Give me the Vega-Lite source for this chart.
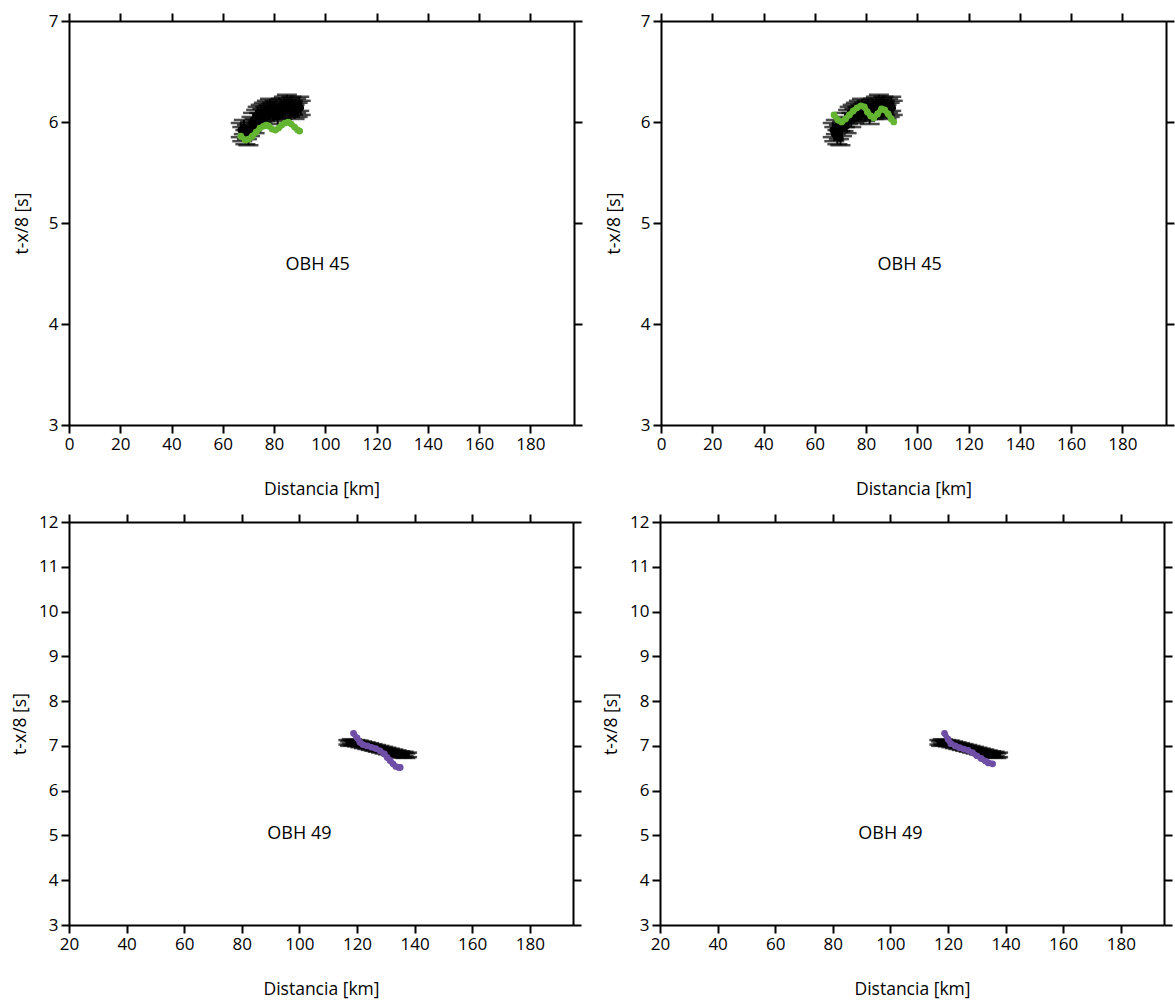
{
"$schema": "https://vega.github.io/schema/vega-lite/v6.json",
"padding": {"left": 11, "top": 12, "right": 5, "bottom": 5},
"background": "white",
"config": {
 "view": {"stroke": null},
 "font": "Open Sans",
 "axis": {"grid": false, "domainColor": "black", "domainWidth": 2, "tickColor": "black", "tickWidth": 2, "tickSize": 8, "labelColor": "black", "titleColor": "black", "labelFont": "Open Sans", "titleFont": "Open Sans", "labelFontSize": 17, "titleFontSize": 17.5, "titleFontWeight": "normal", "labelPadding": 3, "labelFlush": false, "labelOverlap": false, "labelBound": false}
},
"datasets": {
 "p45": [
  {"x":67.0,"y":5.92,"lo":5.85,"hi":5.99},{"x":67.6,"y":5.88,"lo":5.81,"hi":5.95},{"x":68.2,"y":5.95,"lo":5.88,"hi":6.02},{"x":68.8,"y":5.85,"lo":5.78,"hi":5.92},{"x":69.4,"y":5.90,"lo":5.83,"hi":5.97},{"x":70.0,"y":5.84,"lo":5.77,"hi":5.91},{"x":70.6,"y":5.93,"lo":5.86,"hi":6.00},{"x":71.2,"y":5.98,"lo":5.91,"hi":6.05},{"x":71.8,"y":6.02,"lo":5.95,"hi":6.09},{"x":72.4,"y":5.96,"lo":5.89,"hi":6.03},{"x":73.0,"y":6.05,"lo":5.98,"hi":6.12},{"x":73.6,"y":6.08,"lo":6.01,"hi":6.15},{"x":74.2,"y":6.02,"lo":5.95,"hi":6.09},{"x":74.8,"y":6.10,"lo":6.03,"hi":6.17},{"x":75.4,"y":6.06,"lo":5.99,"hi":6.13},{"x":76.0,"y":6.12,"lo":6.05,"hi":6.19},{"x":76.6,"y":6.08,"lo":6.01,"hi":6.15},{"x":77.2,"y":6.14,"lo":6.07,"hi":6.21},{"x":77.8,"y":6.10,"lo":6.03,"hi":6.17},{"x":78.4,"y":6.16,"lo":6.09,"hi":6.23},{"x":79.0,"y":6.12,"lo":6.05,"hi":6.19},{"x":79.6,"y":6.08,"lo":6.01,"hi":6.15},{"x":80.2,"y":6.14,"lo":6.07,"hi":6.21},{"x":80.8,"y":6.10,"lo":6.03,"hi":6.17},{"x":81.4,"y":6.05,"lo":5.98,"hi":6.12},{"x":82.0,"y":6.12,"lo":6.05,"hi":6.19},{"x":82.6,"y":6.16,"lo":6.09,"hi":6.23},{"x":83.2,"y":6.10,"lo":6.03,"hi":6.17},{"x":83.8,"y":6.18,"lo":6.11,"hi":6.25},{"x":84.4,"y":6.14,"lo":6.07,"hi":6.21},{"x":85.0,"y":6.20,"lo":6.13,"hi":6.27},{"x":85.6,"y":6.16,"lo":6.09,"hi":6.23},{"x":86.2,"y":6.12,"lo":6.05,"hi":6.19},{"x":86.8,"y":6.18,"lo":6.11,"hi":6.25},{"x":87.4,"y":6.14,"lo":6.07,"hi":6.21},{"x":88.0,"y":6.10,"lo":6.03,"hi":6.17},{"x":88.6,"y":6.16,"lo":6.09,"hi":6.23},{"x":89.2,"y":6.12,"lo":6.05,"hi":6.19},{"x":89.8,"y":6.18,"lo":6.11,"hi":6.25},{"x":90.4,"y":6.14,"lo":6.07,"hi":6.21}
 ],
 "g45a": [
  {"x":67.0,"y":5.86},{"x":68.8,"y":5.82},{"x":70.0,"y":5.83},{"x":71.5,"y":5.86},{"x":73.0,"y":5.90},{"x":74.5,"y":5.94},{"x":76.0,"y":5.96},{"x":77.0,"y":5.97},{"x":78.0,"y":5.96},{"x":79.2,"y":5.93},{"x":80.5,"y":5.92},{"x":81.8,"y":5.94},{"x":83.0,"y":5.97},{"x":84.3,"y":5.99},{"x":85.5,"y":6.00},{"x":86.7,"y":5.98},{"x":88.0,"y":5.95},{"x":89.2,"y":5.92},{"x":90.0,"y":5.91}
 ],
 "g45b": [
  {"x":67.5,"y":6.07},{"x":69.0,"y":6.02},{"x":70.5,"y":6.00},{"x":72.0,"y":6.03},{"x":73.5,"y":6.07},{"x":75.0,"y":6.11},{"x":76.5,"y":6.14},{"x":78.0,"y":6.16},{"x":79.3,"y":6.15},{"x":80.5,"y":6.10},{"x":81.8,"y":6.06},{"x":83.0,"y":6.04},{"x":84.5,"y":6.08},{"x":86.0,"y":6.13},{"x":87.3,"y":6.12},{"x":88.6,"y":6.08},{"x":89.8,"y":6.03},{"x":90.8,"y":6.00}
 ],
 "p49": [
  {"x":117.0,"y":7.08,"lo":7.03,"hi":7.13},{"x":117.6,"y":7.05,"lo":7.00,"hi":7.10},{"x":118.2,"y":7.10,"lo":7.05,"hi":7.15},{"x":118.8,"y":7.06,"lo":7.01,"hi":7.11},{"x":119.4,"y":7.08,"lo":7.03,"hi":7.13},{"x":120.0,"y":7.04,"lo":6.99,"hi":7.09},{"x":120.6,"y":7.07,"lo":7.02,"hi":7.12},{"x":121.2,"y":7.02,"lo":6.97,"hi":7.07},{"x":121.8,"y":7.05,"lo":7.00,"hi":7.10},{"x":122.4,"y":7.00,"lo":6.95,"hi":7.05},{"x":123.0,"y":7.03,"lo":6.98,"hi":7.08},{"x":123.6,"y":6.98,"lo":6.93,"hi":7.03},{"x":124.2,"y":7.01,"lo":6.96,"hi":7.06},{"x":124.8,"y":6.96,"lo":6.91,"hi":7.01},{"x":125.4,"y":6.99,"lo":6.94,"hi":7.04},{"x":126.0,"y":6.94,"lo":6.89,"hi":6.99},{"x":126.6,"y":6.97,"lo":6.92,"hi":7.02},{"x":127.2,"y":6.92,"lo":6.87,"hi":6.97},{"x":127.8,"y":6.95,"lo":6.90,"hi":7.00},{"x":128.4,"y":6.90,"lo":6.85,"hi":6.95},{"x":129.0,"y":6.93,"lo":6.88,"hi":6.98},{"x":129.6,"y":6.88,"lo":6.83,"hi":6.93},{"x":130.2,"y":6.91,"lo":6.86,"hi":6.96},{"x":130.8,"y":6.86,"lo":6.81,"hi":6.91},{"x":131.4,"y":6.89,"lo":6.84,"hi":6.94},{"x":132.0,"y":6.84,"lo":6.79,"hi":6.89},{"x":132.6,"y":6.87,"lo":6.82,"hi":6.92},{"x":133.2,"y":6.82,"lo":6.77,"hi":6.87},{"x":133.8,"y":6.85,"lo":6.80,"hi":6.90},{"x":134.4,"y":6.80,"lo":6.75,"hi":6.85},{"x":135.0,"y":6.83,"lo":6.78,"hi":6.88},{"x":135.6,"y":6.79,"lo":6.74,"hi":6.84},{"x":136.2,"y":6.82,"lo":6.77,"hi":6.87},{"x":136.8,"y":6.78,"lo":6.73,"hi":6.83},{"x":137.4,"y":6.80,"lo":6.75,"hi":6.85}
 ],
 "v49a": [
  {"x":118.8,"y":7.28},{"x":120.0,"y":7.18},{"x":121.0,"y":7.08},{"x":122.0,"y":7.03},{"x":123.5,"y":7.00},{"x":125.0,"y":6.97},{"x":126.5,"y":6.94},{"x":128.0,"y":6.89},{"x":129.5,"y":6.82},{"x":130.5,"y":6.74},{"x":131.5,"y":6.67},{"x":132.5,"y":6.60},{"x":133.5,"y":6.54},{"x":134.5,"y":6.52},{"x":135.0,"y":6.52}
 ],
 "v49b": [
  {"x":118.8,"y":7.28},{"x":120.0,"y":7.15},{"x":121.0,"y":7.05},{"x":122.5,"y":7.00},{"x":124.0,"y":6.96},{"x":125.5,"y":6.93},{"x":127.0,"y":6.90},{"x":128.5,"y":6.85},{"x":130.0,"y":6.78},{"x":131.5,"y":6.72},{"x":133.0,"y":6.66},{"x":134.0,"y":6.62},{"x":135.5,"y":6.60}
 ],
 "l45": [{"x":97,"y":4.58,"t":"OBH 45"}],
 "l49": [{"x":100,"y":5.04,"t":"OBH 49"}]
},
"spacing": 15,
"vconcat": [
 {"hconcat": [
  {"width": 505, "height": 404,
   "resolve": {"axis": {"x": "independent", "y": "independent"}},
   "layer": [
    {"data": {"name": "p45"}, "mark": {"type": "rule", "color": "black", "strokeWidth": 2},
     "encoding": {
      "x": {"field": "x", "type": "quantitative", "scale": {"domain": [0, 197], "nice": false, "zero": false}, "axis": {"orient": "bottom", "values": [0,20,40,60,80,100,120,140,160,180], "title": "Distancia [km]", "titleY": 64, "titleBaseline": "middle"}},
      "y": {"field": "lo", "type": "quantitative", "scale": {"domain": [3, 7], "nice": false, "zero": false}, "axis": {"orient": "left", "values": [3,4,5,6,7], "title": "t-x/8 [s]", "titleX": -47, "titleBaseline": "middle"}},
      "y2": {"field": "hi"}}},
    {"data": {"name": "p45"}, "mark": {"type": "tick", "orient": "horizontal", "size": 20, "thickness": 2.5, "color": "black"},
     "encoding": {
      "x": {"field": "x", "type": "quantitative", "axis": {"orient": "top", "values": [0,20,40,60,80,100,120,140,160,180], "labels": false, "title": null}},
      "y": {"field": "lo", "type": "quantitative", "axis": {"orient": "right", "values": [3,4,5,6,7], "labels": false, "title": null}}}},
    {"data": {"name": "p45"}, "mark": {"type": "tick", "orient": "horizontal", "size": 20, "thickness": 2.5, "color": "black"},
     "encoding": {"x": {"field": "x", "type": "quantitative", "axis": null}, "y": {"field": "hi", "type": "quantitative", "axis": null}}},
    {"data": {"name": "p45"}, "mark": {"type": "point", "filled": true, "color": "black", "opacity": 1, "size": 45},
     "encoding": {"x": {"field": "x", "type": "quantitative", "axis": null}, "y": {"field": "y", "type": "quantitative", "axis": null}}},
    {"data": {"name": "g45a"}, "mark": {"type": "line", "color": "#63b531", "strokeWidth": 5.5, "strokeCap": "round", "strokeJoin": "round", "point": {"filled": true, "color": "#63b531", "size": 45, "opacity": 1}},
     "encoding": {"x": {"field": "x", "type": "quantitative", "axis": null}, "y": {"field": "y", "type": "quantitative", "axis": null}}},
    {"data": {"name": "l45"}, "mark": {"type": "text", "fontSize": 18, "font": "Open Sans", "color": "black"},
     "encoding": {"x": {"field": "x", "type": "quantitative", "axis": null}, "y": {"field": "y", "type": "quantitative", "axis": null}, "text": {"field": "t"}}}
   ]},
  {"width": 505, "height": 404,
   "resolve": {"axis": {"x": "independent", "y": "independent"}},
   "layer": [
    {"data": {"name": "p45"}, "mark": {"type": "rule", "color": "black", "strokeWidth": 2},
     "encoding": {
      "x": {"field": "x", "type": "quantitative", "scale": {"domain": [0, 197], "nice": false, "zero": false}, "axis": {"orient": "bottom", "values": [0,20,40,60,80,100,120,140,160,180], "title": "Distancia [km]", "titleY": 64, "titleBaseline": "middle"}},
      "y": {"field": "lo", "type": "quantitative", "scale": {"domain": [3, 7], "nice": false, "zero": false}, "axis": {"orient": "left", "values": [3,4,5,6,7], "title": "t-x/8 [s]", "titleX": -47, "titleBaseline": "middle"}},
      "y2": {"field": "hi"}}},
    {"data": {"name": "p45"}, "mark": {"type": "tick", "orient": "horizontal", "size": 20, "thickness": 2.5, "color": "black"},
     "encoding": {
      "x": {"field": "x", "type": "quantitative", "axis": {"orient": "top", "values": [0,20,40,60,80,100,120,140,160,180], "labels": false, "title": null}},
      "y": {"field": "lo", "type": "quantitative", "axis": {"orient": "right", "values": [3,4,5,6,7], "labels": false, "title": null}}}},
    {"data": {"name": "p45"}, "mark": {"type": "tick", "orient": "horizontal", "size": 20, "thickness": 2.5, "color": "black"},
     "encoding": {"x": {"field": "x", "type": "quantitative", "axis": null}, "y": {"field": "hi", "type": "quantitative", "axis": null}}},
    {"data": {"name": "p45"}, "mark": {"type": "point", "filled": true, "color": "black", "opacity": 1, "size": 45},
     "encoding": {"x": {"field": "x", "type": "quantitative", "axis": null}, "y": {"field": "y", "type": "quantitative", "axis": null}}},
    {"data": {"name": "g45b"}, "mark": {"type": "line", "color": "#63b531", "strokeWidth": 5.5, "strokeCap": "round", "strokeJoin": "round", "point": {"filled": true, "color": "#63b531", "size": 45, "opacity": 1}},
     "encoding": {"x": {"field": "x", "type": "quantitative", "axis": null}, "y": {"field": "y", "type": "quantitative", "axis": null}}},
    {"data": {"name": "l45"}, "mark": {"type": "text", "fontSize": 18, "font": "Open Sans", "color": "black"},
     "encoding": {"x": {"field": "x", "type": "quantitative", "axis": null}, "y": {"field": "y", "type": "quantitative", "axis": null}, "text": {"field": "t"}}}
   ]}
 ], "bounds": "flush", "spacing": 87},
 {"hconcat": [
  {"width": 504, "height": 403,
   "resolve": {"axis": {"x": "independent", "y": "independent"}},
   "layer": [
    {"data": {"name": "p49"}, "mark": {"type": "rule", "color": "black", "strokeWidth": 2},
     "encoding": {
      "x": {"field": "x", "type": "quantitative", "scale": {"domain": [20, 195], "nice": false, "zero": false}, "axis": {"orient": "bottom", "values": [20,40,60,80,100,120,140,160,180], "title": "Distancia [km]", "titleY": 64, "titleBaseline": "middle"}},
      "y": {"field": "lo", "type": "quantitative", "scale": {"domain": [3, 12], "nice": false, "zero": false}, "axis": {"orient": "left", "values": [3,4,5,6,7,8,9,10,11,12], "title": "t-x/8 [s]", "titleX": -49, "titleBaseline": "middle"}},
      "y2": {"field": "hi"}}},
    {"data": {"name": "p49"}, "mark": {"type": "tick", "orient": "horizontal", "size": 20, "thickness": 2.5, "color": "black"},
     "encoding": {
      "x": {"field": "x", "type": "quantitative", "axis": {"orient": "top", "values": [20,40,60,80,100,120,140,160,180], "labels": false, "title": null}},
      "y": {"field": "lo", "type": "quantitative", "axis": {"orient": "right", "values": [3,4,5,6,7,8,9,10,11,12], "labels": false, "title": null}}}},
    {"data": {"name": "p49"}, "mark": {"type": "tick", "orient": "horizontal", "size": 20, "thickness": 2.5, "color": "black"},
     "encoding": {"x": {"field": "x", "type": "quantitative", "axis": null}, "y": {"field": "hi", "type": "quantitative", "axis": null}}},
    {"data": {"name": "p49"}, "mark": {"type": "point", "filled": true, "color": "black", "opacity": 1, "size": 30},
     "encoding": {"x": {"field": "x", "type": "quantitative", "axis": null}, "y": {"field": "y", "type": "quantitative", "axis": null}}},
    {"data": {"name": "v49a"}, "mark": {"type": "line", "color": "#6f4ea6", "strokeWidth": 5.5, "strokeCap": "round", "strokeJoin": "round", "point": {"filled": true, "color": "#6f4ea6", "size": 45, "opacity": 1}},
     "encoding": {"x": {"field": "x", "type": "quantitative", "axis": null}, "y": {"field": "y", "type": "quantitative", "axis": null}}},
    {"data": {"name": "l49"}, "mark": {"type": "text", "fontSize": 18, "font": "Open Sans", "color": "black"},
     "encoding": {"x": {"field": "x", "type": "quantitative", "axis": null}, "y": {"field": "y", "type": "quantitative", "axis": null}, "text": {"field": "t"}}}
   ]},
  {"width": 504, "height": 403,
   "resolve": {"axis": {"x": "independent", "y": "independent"}},
   "layer": [
    {"data": {"name": "p49"}, "mark": {"type": "rule", "color": "black", "strokeWidth": 2},
     "encoding": {
      "x": {"field": "x", "type": "quantitative", "scale": {"domain": [20, 195], "nice": false, "zero": false}, "axis": {"orient": "bottom", "values": [20,40,60,80,100,120,140,160,180], "title": "Distancia [km]", "titleY": 64, "titleBaseline": "middle"}},
      "y": {"field": "lo", "type": "quantitative", "scale": {"domain": [3, 12], "nice": false, "zero": false}, "axis": {"orient": "left", "values": [3,4,5,6,7,8,9,10,11,12], "title": "t-x/8 [s]", "titleX": -49, "titleBaseline": "middle"}},
      "y2": {"field": "hi"}}},
    {"data": {"name": "p49"}, "mark": {"type": "tick", "orient": "horizontal", "size": 20, "thickness": 2.5, "color": "black"},
     "encoding": {
      "x": {"field": "x", "type": "quantitative", "axis": {"orient": "top", "values": [20,40,60,80,100,120,140,160,180], "labels": false, "title": null}},
      "y": {"field": "lo", "type": "quantitative", "axis": {"orient": "right", "values": [3,4,5,6,7,8,9,10,11,12], "labels": false, "title": null}}}},
    {"data": {"name": "p49"}, "mark": {"type": "tick", "orient": "horizontal", "size": 20, "thickness": 2.5, "color": "black"},
     "encoding": {"x": {"field": "x", "type": "quantitative", "axis": null}, "y": {"field": "hi", "type": "quantitative", "axis": null}}},
    {"data": {"name": "p49"}, "mark": {"type": "point", "filled": true, "color": "black", "opacity": 1, "size": 30},
     "encoding": {"x": {"field": "x", "type": "quantitative", "axis": null}, "y": {"field": "y", "type": "quantitative", "axis": null}}},
    {"data": {"name": "v49b"}, "mark": {"type": "line", "color": "#6f4ea6", "strokeWidth": 5.5, "strokeCap": "round", "strokeJoin": "round", "point": {"filled": true, "color": "#6f4ea6", "size": 45, "opacity": 1}},
     "encoding": {"x": {"field": "x", "type": "quantitative", "axis": null}, "y": {"field": "y", "type": "quantitative", "axis": null}}},
    {"data": {"name": "l49"}, "mark": {"type": "text", "fontSize": 18, "font": "Open Sans", "color": "black"},
     "encoding": {"x": {"field": "x", "type": "quantitative", "axis": null}, "y": {"field": "y", "type": "quantitative", "axis": null}, "text": {"field": "t"}}}
   ]}
 ], "bounds": "flush", "spacing": 87}
]
}
